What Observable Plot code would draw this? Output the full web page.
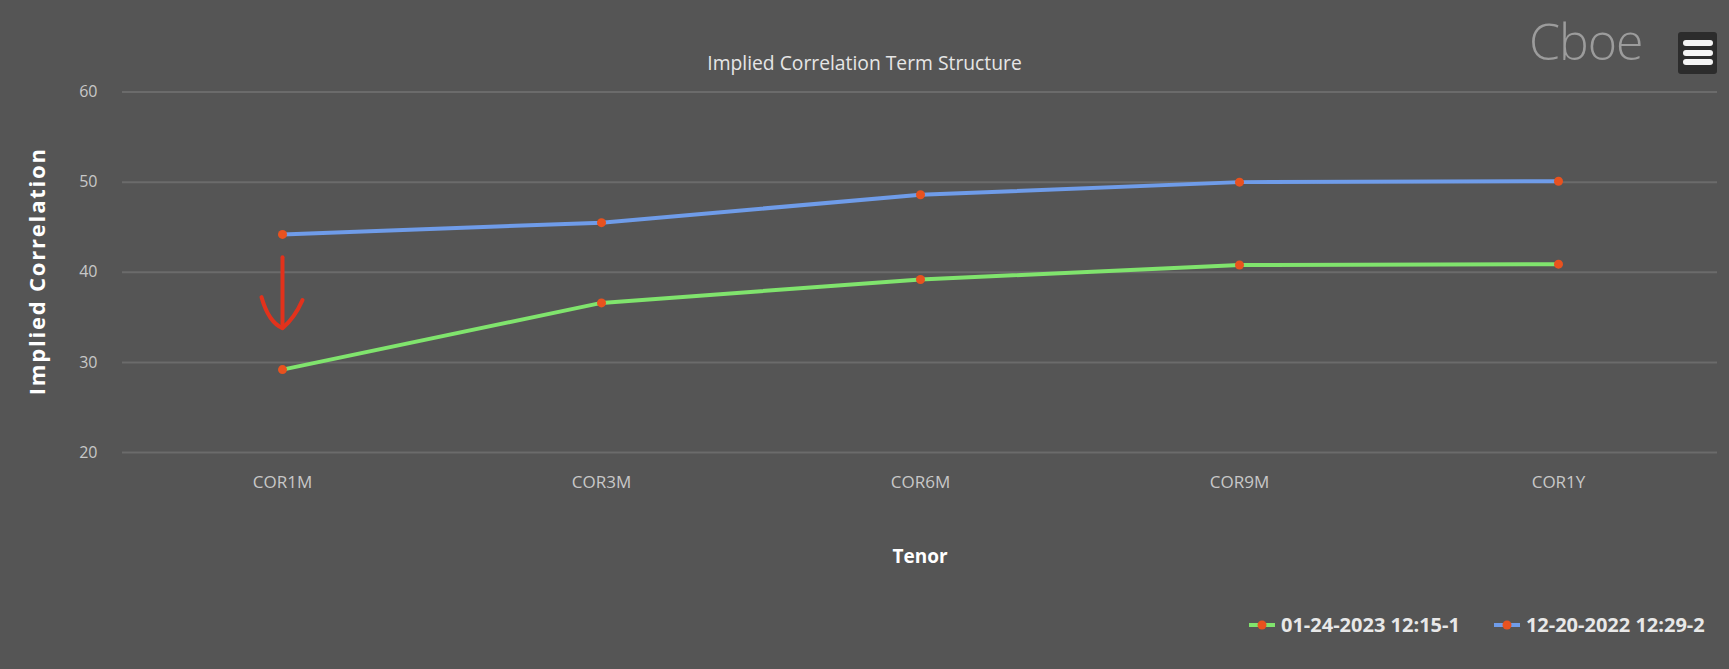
<!DOCTYPE html>
<html>
<head>
<meta charset="utf-8">
<script src="https://cdn.jsdelivr.net/npm/d3@7"></script>
<script src="https://cdn.jsdelivr.net/npm/@observablehq/plot@0.6"></script>
<style>
  html, body { margin: 0; padding: 0; background: #555555; }
  #wrap { position: relative; width: 1729px; height: 669px; overflow: hidden; font-family: "Open Sans", sans-serif; }
  #chart { position: absolute; left: 0; top: 0; }
  #title { position: absolute; left: 0; top: 50px; width: 1729px; text-align: center; color: #e6e6e6; font-size: 19.3px; line-height: 26px; }
  #logo { position: absolute; left: 1529px; top: 8px; color: #9c9c9c; font-size: 50px; font-weight: 300; letter-spacing: -1px; line-height: 66px; }
  #menu { position: absolute; left: 1678px; top: 32px; width: 39px; height: 42px; background: #2c2c2c; border-radius: 3px; }
  #menu span { position: absolute; left: 5px; width: 30px; height: 6px; background: #f4f4f4; border-radius: 3px; }
  #legend { position: absolute; top: 611px; left: 1249px; display: flex; align-items: center; color: #e8e8e8; font-weight: 700; font-size: 20px; line-height: 28px; white-space: nowrap; }
  .item { display: flex; align-items: center; margin-right: 34px; }
  .item svg { margin-right: 6px; }
</style>
</head>
<body>
<div id="wrap">
  <div id="chart"></div>
  <div id="title"></div>
  <div id="logo">Cboe</div>
  <div id="menu"><span style="top:8px"></span><span style="top:18px"></span><span style="top:27px"></span></div>
  <div id="legend"></div>
</div>
<script>
// ---- data ----
const chartTitle = "Implied Correlation Term Structure";
const yLabel = "Implied Correlation";
const xLabel = "Tenor";
const tenors = ["COR1M", "COR3M", "COR6M", "COR9M", "COR1Y"];
const seriesNames = ["01-24-2023 12:15-1", "12-20-2022 12:29-2"];
const jan24Values = [29.2, 36.6, 39.2, 40.8, 40.9];
const dec20Values = [44.2, 45.5, 48.6, 50.0, 50.1];
const yTicks = [20, 30, 40, 50, 60];
const seriesColors = ["#80e46d", "#6f9ce9"];
const pointColor = "#e8521f";
const arrowNote = [{tenor: "COR1M", from: 41.6, to: 33.8}];

// ---- build rows ----
const seriesValues = [jan24Values, dec20Values];
const rows = [];
seriesNames.forEach((s, i) => {
  tenors.forEach((t, j) => rows.push({series: s, tenor: t, value: seriesValues[i][j]}));
});

document.getElementById("title").textContent = chartTitle;

// hand-drawn style arrowhead symbol (tip at the data point)
const arrowHead = {
  draw(context, size) {
    const k = Math.sqrt(size / Math.PI) / 20;
    context.moveTo(-21 * k, -31 * k);
    context.quadraticCurveTo(-14 * k, -6 * k, 0, 0);
    context.quadraticCurveTo(12 * k, -10 * k, 20 * k, -28 * k);
  }
};

const chart = Plot.plot({
  width: 1729,
  height: 669,
  marginLeft: 122,
  marginRight: 12,
  marginTop: 91.5,
  marginBottom: 217,
  style: {background: "transparent", color: "#c8c8c8", fontFamily: "'Open Sans', sans-serif", fontSize: "16px", overflow: "visible"},
  x: {type: "point", domain: tenors, padding: 0.5, label: null},
  y: {domain: [20, 60], label: null},
  color: {domain: seriesNames, range: seriesColors},
  marks: [
    Plot.gridY(yTicks, {stroke: "#6b6b6b", strokeOpacity: 1, strokeWidth: 2}),
    Plot.axisY(yTicks, {tickSize: 0, tickPadding: 25, label: null, fill: "#c8c8c8", fontSize: 16}),
    Plot.axisX({tickSize: 0, tickPadding: 23, label: null, fill: "#c8c8c8", fontSize: 17}),
    Plot.line(rows, {x: "tenor", y: "value", z: "series", stroke: "series", strokeWidth: 4}),
    Plot.dot(rows, {x: "tenor", y: "value", r: 4.5, fill: pointColor, stroke: "none"}),
    Plot.ruleX(arrowNote, {x: "tenor", y1: "from", y2: "to", stroke: "#e2321c", strokeWidth: 4, strokeLinecap: "round"}),
    Plot.dot(arrowNote, {x: "tenor", y: "to", r: 20, symbol: arrowHead, fill: "none", stroke: "#e2321c", strokeWidth: 4, strokeLinecap: "round", strokeLinejoin: "round"}),
    Plot.text([xLabel], {frameAnchor: "bottom", dy: 104, fill: "#ffffff", fontWeight: "bold", fontSize: 19, lineAnchor: "middle"}),
    Plot.text([yLabel], {frameAnchor: "left", dx: -85, dy: -1, rotate: -90, textAnchor: "middle", fill: "#ffffff", fontWeight: "bold", fontSize: 22, lineAnchor: "middle"})
  ]
});
d3.select(chart).selectAll("text").filter(function() { return this.textContent === yLabel; }).style("letter-spacing", "1.8px");
document.getElementById("chart").appendChild(chart);

// ---- legend ----
const legend = document.getElementById("legend");
seriesNames.forEach((s, i) => {
  const item = document.createElement("div");
  item.className = "item";
  item.innerHTML = `<svg width="26" height="10"><line x1="0" x2="26" y1="5" y2="5" stroke="${seriesColors[i]}" stroke-width="4"/><circle cx="13" cy="5" r="4.5" fill="${pointColor}"/></svg>`;
  const label = document.createElement("span");
  label.textContent = s;
  item.appendChild(label);
  legend.appendChild(item);
});
</script>
</body>
</html>
